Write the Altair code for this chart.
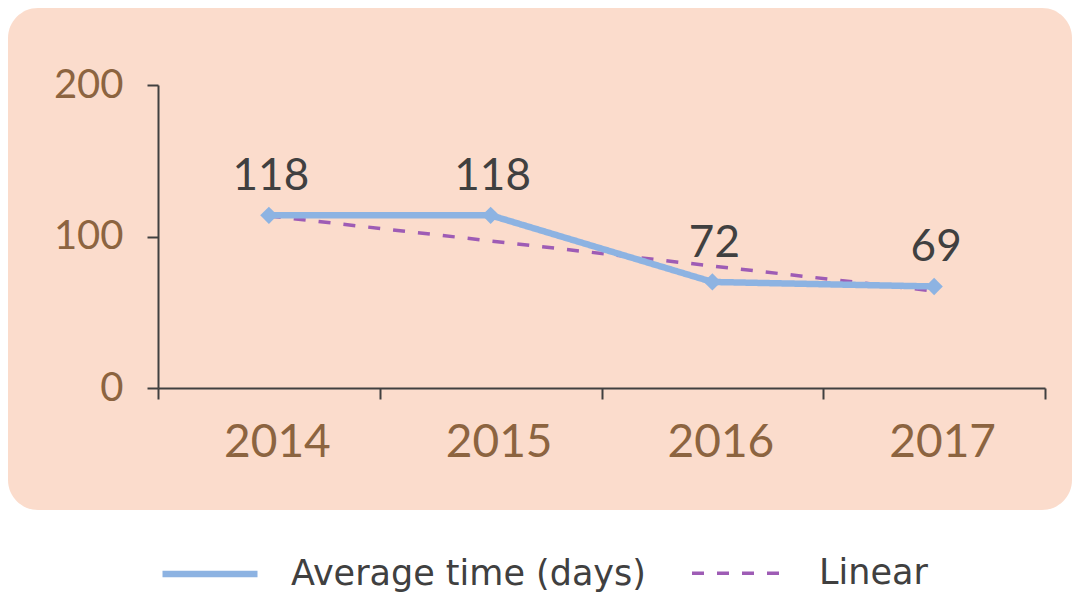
import altair as alt
import pandas as pd

# ---- data ----
years = [2014, 2015, 2016, 2017]
avg_days = [114, 114, 70, 67]          # plotted positions
avg_labels = ["118", "118", "72", "69"]  # printed data labels
trend_years = [2014, 2017]
trend_vals = [113.6, 64.0]
series_names = ["Average time (days)", "Linear"]
x_tick_values = [2013.5, 2014.5, 2015.5, 2016.5, 2017.5]
y_tick_values = [0, 100, 200]

BG = "#FBDCCC"
BLUE = "#8DB3E2"
PURPLE = "#9E5CB5"
BROWN = "#8C6440"
DARK = "#404040"
FONT = "Lato"
LEGEND_FONT = "DejaVu Sans"

W, H = 887, 303

main_df = pd.DataFrame({
    "year": years,
    "value": avg_days,
    "label": avg_labels,
    "series": [series_names[0]] * len(years),
})
trend_df = pd.DataFrame({
    "year": trend_years,
    "value": trend_vals,
    "series": [series_names[1]] * len(trend_years),
})

x_enc = alt.X(
    "year:Q",
    scale=alt.Scale(domain=[2013.5, 2017.5], nice=False, zero=False),
    axis=alt.Axis(
        title=None,
        values=x_tick_values,
        labelExpr="datum.value < 2017 ? format(datum.value + 0.5, 'd') : ''",
        labelOffset=W / 8 + 8,
        labelOverlap=False,
        labelBound=False,
        labelFlush=False,
        tickSize=11,
        tickWidth=2,
        domainWidth=2,
        tickColor=DARK,
        domainColor=DARK,
        labelColor=BROWN,
        labelFont=FONT,
        labelFontSize=46,
        labelPadding=21,
        grid=False,
        zindex=1,
    ),
)
y_enc = alt.Y(
    "value:Q",
    scale=alt.Scale(domain=[0, 200], nice=False),
    axis=alt.Axis(
        title=None,
        values=y_tick_values,
        tickSize=11,
        tickWidth=2,
        domainWidth=2,
        tickColor=DARK,
        domainColor=DARK,
        labelColor=BROWN,
        labelFont=FONT,
        labelFontSize=40,
        labelPadding=24,
        grid=False,
        zindex=1,
    ),
)

color_enc = alt.Color(
    "series:N",
    scale=alt.Scale(domain=series_names, range=[BLUE, PURPLE]),
    legend=alt.Legend(title=None),
)
dash_enc = alt.StrokeDash(
    "series:N",
    scale=alt.Scale(domain=series_names, range=[[1, 0], [12, 13]]),
    legend=alt.Legend(title=None),
)
width_enc = alt.StrokeWidth(
    "series:N",
    scale=alt.Scale(domain=series_names, range=[6.5, 3.5]),
    legend=alt.Legend(title=None),
)

bg = alt.Chart(alt.Data(values=[{}])).mark_rect(
    color=BG, cornerRadius=30
).encode(
    x=alt.value(-150), x2=alt.value(914), y=alt.value(-77), y2=alt.value(425)
)

trend = alt.Chart(trend_df).mark_line().encode(
    x=x_enc, y=y_enc, color=color_enc, strokeDash=dash_enc, strokeWidth=width_enc
)

line = alt.Chart(main_df).mark_line().encode(
    x=x_enc, y=y_enc, color=color_enc, strokeDash=dash_enc, strokeWidth=width_enc
)

points = alt.Chart(main_df).mark_point(
    shape="diamond", filled=True, size=300, color=BLUE, opacity=1
).encode(x=x_enc, y=y_enc)

labels = alt.Chart(main_df).mark_text(
    font=FONT, fontSize=44, color=DARK, dy=-25, dx=2,
    baseline="alphabetic", align="center"
).encode(x=x_enc, y=y_enc, text="label:N")

chart = alt.layer(bg, trend, line, points, labels).properties(
    width=W,
    height=H,
    autosize=alt.AutoSizeParams(type="none"),
    padding={"left": 150, "top": 77, "right": 27, "bottom": 207},
    background="white",
).configure_view(stroke=None).configure_legend(
    orient="none",
    legendX=1,
    legendY=438,
    direction="horizontal",
    symbolType="stroke",
    symbolSize=95 * 95,
    labelFont=LEGEND_FONT,
    labelFontSize=35,
    labelColor=DARK,
    labelOffset=30,
    columnPadding=39,
    labelLimit=0,
    zindex=1,
)

chart.save("out.html", embed_options={"renderer": "svg", "actions": False})
